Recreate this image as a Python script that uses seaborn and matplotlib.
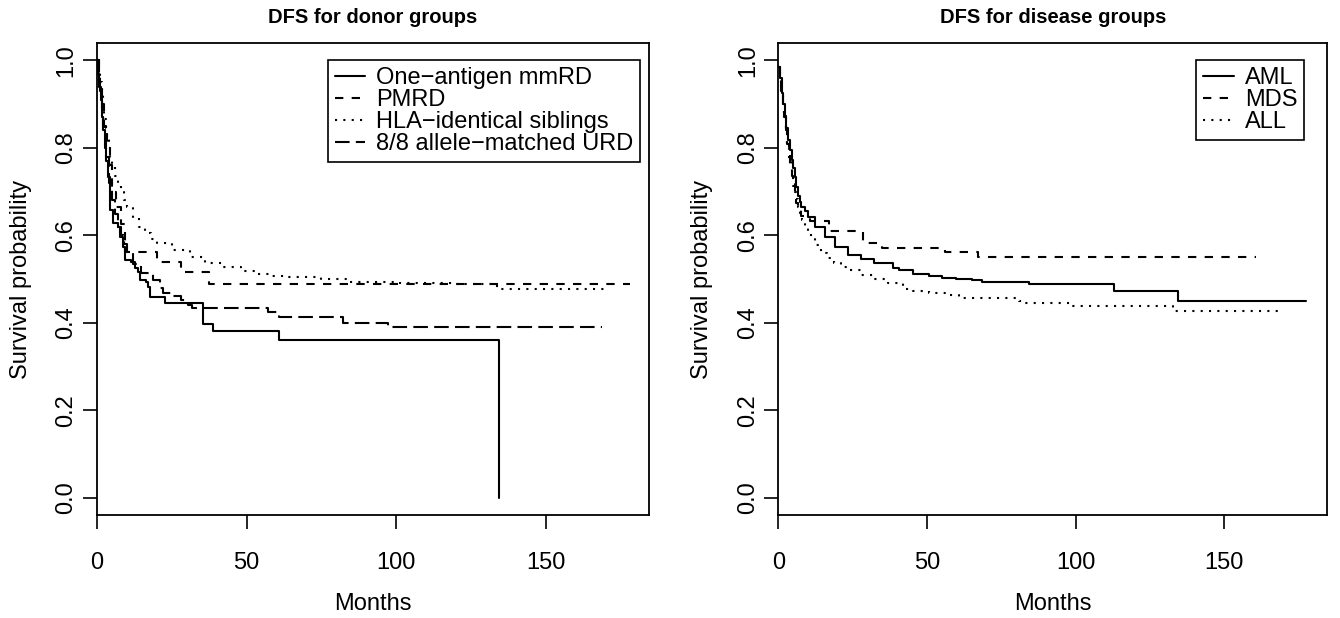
import matplotlib
matplotlib.use("Agg")
import matplotlib.pyplot as plt
import seaborn as sns

# left panel: donor groups (months, survival probability)
mmrd_t = [0, 0.4, 0.8, 1.2, 1.6, 2.0, 2.6, 3.1, 3.7, 4.2, 5.4, 7.0, 7.6, 8.7, 9.3,
          11.5, 12.6, 13.7, 14.3, 16.5, 17.1, 17.6, 22.6, 35.5, 38.8, 60.8, 134.5]
mmrd_s = [1.0, 0.97, 0.94, 0.91, 0.87, 0.84, 0.80, 0.77, 0.734, 0.658, 0.628, 0.62, 0.597,
          0.574, 0.544, 0.54, 0.525, 0.517, 0.498, 0.494, 0.483, 0.46, 0.445, 0.398, 0.382,
          0.362, 0.0]

pmrd_t = [0, 0.8, 1.6, 2.5, 3.3, 4.2, 5.0, 6.5, 8.0, 9.3, 19.9, 28.0, 37.4, 178.2]
pmrd_s = [1.0, 0.95, 0.90, 0.84, 0.80, 0.76, 0.70, 0.665, 0.625, 0.563, 0.54, 0.517, 0.489, 0.489]

hla_t = [0, 0.5, 1, 1.5, 2, 2.5, 3, 3.5, 4, 4.5, 5, 6, 7, 8, 9, 10, 12, 14, 16, 18, 20, 25,
         31, 36, 42, 48, 53, 58, 64, 75, 84, 100, 120, 133.6, 170]
hla_s = [1.0, 0.975, 0.95, 0.92, 0.89, 0.865, 0.845, 0.82, 0.80, 0.78, 0.765, 0.735, 0.715,
         0.70, 0.68, 0.665, 0.64, 0.62, 0.605, 0.592, 0.582, 0.567, 0.55, 0.538, 0.527, 0.518,
         0.512, 0.508, 0.504, 0.50, 0.494, 0.491, 0.49, 0.477, 0.477]

urd_t = [0, 0.5, 1, 1.5, 2, 3, 4, 5, 6, 7, 8, 9, 10, 12, 14.8, 18.7, 21, 22, 24.9, 28.2,
         30.4, 31.6, 57.2, 61, 82.4, 97.2, 169]
urd_s = [1.0, 0.97, 0.93, 0.89, 0.85, 0.78, 0.72, 0.68, 0.65, 0.62, 0.60, 0.58, 0.56, 0.535,
         0.514, 0.498, 0.479, 0.468, 0.462, 0.453, 0.441, 0.434, 0.425, 0.413, 0.40, 0.39, 0.39]

# right panel: disease groups
aml_t = [0, 0.5, 1.1, 1.6, 2.2, 2.7, 3.3, 3.9, 4.5, 5.0, 5.6, 6.1, 6.7, 7.2, 7.8, 8.9, 10,
         12.3, 15.6, 19, 23.4, 27.9, 32.3, 38.5, 40.7, 45.2, 50.7, 55.2, 59.6, 65.2, 68.5,
         84.2, 112.9, 134.3, 177.6]
aml_s = [0.985, 0.96, 0.925, 0.90, 0.872, 0.845, 0.818, 0.795, 0.773, 0.755, 0.734, 0.71,
         0.689, 0.677, 0.666, 0.655, 0.643, 0.62, 0.597, 0.574, 0.555, 0.546, 0.536, 0.525,
         0.521, 0.512, 0.507, 0.503, 0.50, 0.497, 0.494, 0.49, 0.474, 0.45, 0.45]

mds_t = [0, 0.5, 1, 1.5, 2, 2.5, 3, 3.5, 3.9, 4.5, 5.0, 5.5, 6.1, 6.8, 7.5, 8.9, 10.6, 17,
         28.4, 35, 56, 67, 160.5]
mds_s = [0.985, 0.955, 0.93, 0.90, 0.87, 0.84, 0.81, 0.785, 0.757, 0.735, 0.712, 0.69,
         0.674, 0.66, 0.645, 0.64, 0.632, 0.611, 0.582, 0.572, 0.561, 0.551, 0.551]

all_t = [0, 0.5, 1, 1.5, 2, 2.5, 3, 3.7, 4.5, 5.0, 5.6, 6.1, 6.7, 7.3, 8, 8.9, 10, 11.1,
         12.5, 14.5, 16.5, 18.9, 21, 23.4, 27.9, 32.3, 36.8, 41.8, 45.2, 50.7, 57.4, 60.8,
         78.6, 80.8, 83, 98, 132.6, 169.4]
all_s = [0.985, 0.955, 0.93, 0.90, 0.87, 0.84, 0.81, 0.775, 0.742, 0.72, 0.70, 0.683,
         0.666, 0.65, 0.635, 0.62, 0.607, 0.595, 0.578, 0.56, 0.548, 0.536, 0.528, 0.521,
         0.51, 0.50, 0.492, 0.477, 0.474, 0.469, 0.464, 0.456, 0.456, 0.451, 0.445, 0.439,
         0.428, 0.428]

SOLID = "-"
DASHED = (0, (4, 4))
DOTTED = (0, (1, 3))
LONGDASH = (0, (7, 3))

left_series = [
    ("One\u2212antigen mmRD", mmrd_t, mmrd_s, SOLID),
    ("PMRD", pmrd_t, pmrd_s, DASHED),
    ("HLA\u2212identical siblings", hla_t, hla_s, DOTTED),
    ("8/8 allele\u2212matched URD", urd_t, urd_s, LONGDASH),
]
right_series = [
    ("AML", aml_t, aml_s, SOLID),
    ("MDS", mds_t, mds_s, DASHED),
    ("ALL", all_t, all_s, DOTTED),
]

sns.set_style("ticks")
plt.rcParams["font.family"] = ["Liberation Sans", "DejaVu Sans"]
plt.rcParams["text.color"] = "black"
plt.rcParams["axes.labelcolor"] = "black"
plt.rcParams["xtick.color"] = "black"
plt.rcParams["ytick.color"] = "black"

FS = 17

fig = plt.figure(figsize=(13.4, 6.18), dpi=100)
ax1 = fig.add_axes([0.0724, 0.166, 0.4120, 0.7646])
ax2 = fig.add_axes([0.5808, 0.166, 0.4097, 0.7646])


def km_panel(ax, series, title, legend_anchor):
    for label, t, s, ls in series:
        sns.lineplot(x=t, y=s, ax=ax, color="black", linewidth=1.5, linestyle=ls,
                     drawstyle="steps-post", estimator=None, sort=False, label=label)
    ax.set_xlim(0, 184.6)
    ax.set_ylim(-0.04, 1.04)
    ax.set_xticks([0, 50, 100, 150])
    ax.set_yticks([0.0, 0.2, 0.4, 0.6, 0.8, 1.0])
    ax.set_yticklabels(["0.0", "0.2", "0.4", "0.6", "0.8", "1.0"], rotation=90, va="center")
    ax.tick_params(axis="both", labelsize=FS, length=10, width=1.2, color="black",
                   labelcolor="black")
    ax.tick_params(axis="x", pad=16)
    ax.tick_params(axis="y", pad=4)
    for sp in ax.spines.values():
        sp.set_visible(True)
        sp.set_color("black")
        sp.set_linewidth(1.3)
    ax.set_xlabel("Months", fontsize=FS, labelpad=14)
    ax.set_ylabel("Survival probability", fontsize=FS, labelpad=17)
    ax.set_title(title, fontsize=14.5, fontweight="bold", pad=14)
    leg = ax.legend(loc="upper right", bbox_to_anchor=legend_anchor, fontsize=FS,
                    frameon=True, fancybox=False, framealpha=1, edgecolor="black",
                    handlelength=1.3, handletextpad=0.45, labelspacing=0.0,
                    borderpad=0.3, borderaxespad=0)
    leg.get_frame().set_linewidth(1.2)


km_panel(ax1, left_series, "DFS for donor groups", (0.984, 0.964))
km_panel(ax2, right_series, "DFS for disease groups", (0.958, 0.964))

fig.savefig("out.png", dpi=100, facecolor="white")
